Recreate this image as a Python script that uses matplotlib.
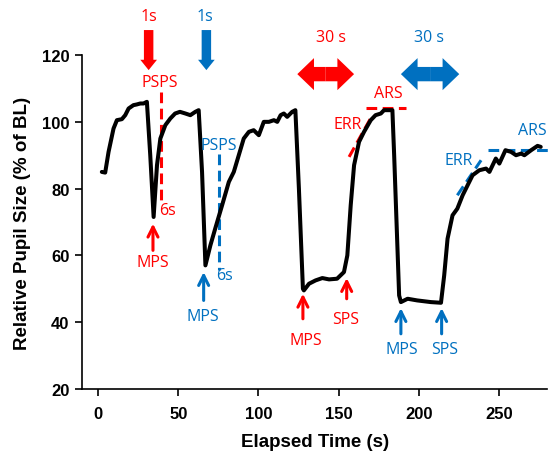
#!/usr/bin/env python
# -*- coding: utf-8 -*-
import matplotlib
matplotlib.use('Agg')
import matplotlib.pyplot as plt
from matplotlib.patches import FancyArrow

# pupil trace
elapsed_s = [2.3, 4.4, 6.5, 9.6, 11.7, 14.8, 16.9, 19.0, 22.0, 24.0, 26.3, 28.3, 30.4,
             32.5, 34.6, 36.7, 38.8, 41.9, 45.0, 48.0, 51.0, 54.4, 57.5, 60.6, 62.7,
             64.8, 66.9, 70.0, 73.0, 77.3, 81.5, 84.6, 87.7, 90.8, 94.0, 97.0, 100.2,
             103.3, 106.5, 109.6, 111.7, 113.8, 115.8, 117.9, 121.0, 123.0,
             125.2, 127.7, 128.3, 131.5, 135.6, 139.8, 144.0, 149.0, 153.3, 155.4,
             157.5, 159.6, 162.7, 165.8, 170.0, 173.0, 176.3, 178.3, 183.5,
             184.6, 187.7, 188.8, 193.0, 199.0, 207.5, 213.8,
             215.8, 217.9, 221.0, 224.0, 227.3, 230.4, 233.5, 237.7, 241.9, 244.0,
             248.0, 250.2, 254.0, 257.5, 260.6, 263.8, 265.8, 270.0, 274.0, 276.0]
pupil_pct = [85.0, 84.8, 91.0, 98.0, 100.5, 100.8, 102.0, 104.0, 105.0, 105.2, 105.5, 105.5, 106.0,
             90.0, 71.5, 87.0, 95.0, 99.0, 101.0, 102.5, 103.0, 102.5, 102.0, 103.0, 103.5,
             85.0, 57.0, 63.0, 68.0, 75.0, 82.0, 85.0, 90.0, 95.0, 97.0, 97.5, 96.0,
             100.0, 100.0, 100.5, 100.0, 102.0, 102.5, 101.5, 103.0, 103.5,
             80.0, 50.0, 49.5, 51.5, 52.5, 53.2, 52.8, 53.0, 55.0, 60.0,
             75.0, 87.0, 94.0, 97.0, 100.5, 102.0, 102.5, 103.5, 103.5,
             90.0, 48.0, 46.0, 47.0, 46.5, 46.0, 45.8,
             54.0, 65.0, 72.0, 74.0, 78.0, 81.0, 84.0, 85.5, 86.0, 85.0,
             89.0, 87.5, 91.5, 91.0, 90.0, 90.5, 90.0, 91.5, 92.8, 92.5]

x_ticks = [0, 50, 100, 150, 200, 250]
y_ticks = [20, 40, 60, 80, 100, 120]

RED = '#FF0000'
BLUE = '#0070C0'
ann_font = {'family': 'Open Sans', 'size': 11.5}

plt.rcParams['font.family'] = 'Liberation Sans'
fig = plt.figure(figsize=(5.51, 4.56), dpi=100)
ax = fig.add_axes([0.149, 0.145, 0.844, 0.732])

ax.plot(elapsed_s, pupil_pct, color='black', lw=2.9, solid_joinstyle='round',
        solid_capstyle='round', zorder=3)

ax.set_xlim(-10, 280)
ax.set_ylim(20, 120)
ax.set_xticks(x_ticks)
ax.set_yticks(y_ticks)
ax.tick_params(direction='out', length=5, width=1.2, labelsize=12)
ax.tick_params(axis='x', pad=7)
ax.tick_params(axis='y', pad=4)
for lab in ax.get_xticklabels() + ax.get_yticklabels():
    lab.set_fontweight('bold')
for side in ['top', 'right']:
    ax.spines[side].set_visible(False)
for side in ['left', 'bottom']:
    ax.spines[side].set_linewidth(1.2)
ax.set_xlabel('Elapsed Time (s)', fontsize=13.5, fontweight='bold', labelpad=9)
ax.set_ylabel('Relative Pupil Size (% of BL)', fontsize=13.5, fontweight='bold', labelpad=8)


def txt(x, y, s, c):
    ax.text(x, y, s, color=c, ha='center', va='center', fontdict=ann_font, clip_on=False)


def block_down(x, c):
    ax.add_patch(FancyArrow(x, 127.5, 0, -12.0, width=5.9, head_width=10.4, head_length=3.1,
                            length_includes_head=True, color=c, lw=0, clip_on=False))


def block_double(x0, x1, c):
    xm = (x0 + x1) / 2
    for end in (x0, x1):
        ax.add_patch(FancyArrow(xm, 114.3, end - xm, 0, width=4.3, head_width=9.6, head_length=10.4,
                                length_includes_head=True, color=c, lw=0, clip_on=False))


def up_arrow(x, y0, y1, c):
    ax.annotate('', xy=(x, y1), xytext=(x, y0),
                arrowprops=dict(arrowstyle='->', color=c, lw=2.2, mutation_scale=18,
                                shrinkA=0, shrinkB=0))


dash = dict(lw=2.2, dashes=(3.5, 1.8), clip_on=False, zorder=2)

# 1 s flashes
block_down(31.5, RED)
block_down(67.5, BLUE)
txt(31.9, 131.8, '1s', RED)
txt(66.4, 131.8, '1s', BLUE)

# PSPS markers at 6 s
ax.plot([39.4, 39.4], [109, 75.5], color=RED, **dash)
txt(38.3, 112, 'PSPS', RED)
txt(43.5, 73.5, '6s', RED)
ax.plot([75.2, 75.2], [90.5, 55.5], color=BLUE, **dash)
txt(75.2, 93, 'PSPS', BLUE)
txt(78.5, 54, '6s', BLUE)

# 30 s light
block_double(124.2, 159.6, RED)
block_double(188.8, 225.2, BLUE)
txt(145, 125.3, '30 s', RED)
txt(206.5, 125.3, '30 s', BLUE)

# MPS / SPS arrows
up_arrow(34.2, 61.5, 69.5, RED)
txt(34.2, 58, 'MPS', RED)
up_arrow(65.8, 46.5, 55, BLUE)
txt(65.4, 41.8, 'MPS', BLUE)
up_arrow(127.7, 41, 48.5, RED)
txt(129.4, 34.5, 'MPS', RED)
up_arrow(155, 47, 53.2, RED)
txt(154.4, 41, 'SPS', RED)
up_arrow(188.8, 36.5, 44.2, BLUE)
txt(189.2, 32, 'MPS', BLUE)
up_arrow(214.2, 36.5, 44.2, BLUE)
txt(215.8, 32, 'SPS', BLUE)

# ERR / ARS fits
ax.plot([156.5, 171], [89.5, 102], color=RED, **dash)
ax.plot([166.9, 191.9], [104, 104], color=RED, **dash)
txt(155.4, 99.5, 'ERR', RED)
txt(180.8, 108.7, 'ARS', RED)
ax.plot([224, 238.8], [78, 88.5], color=BLUE, **dash)
ax.plot([243, 283], [91.7, 91.7], color=BLUE, **dash)
txt(224.6, 88.5, 'ERR', BLUE)
txt(271, 97.5, 'ARS', BLUE)

plt.savefig('out.png', dpi=100)
